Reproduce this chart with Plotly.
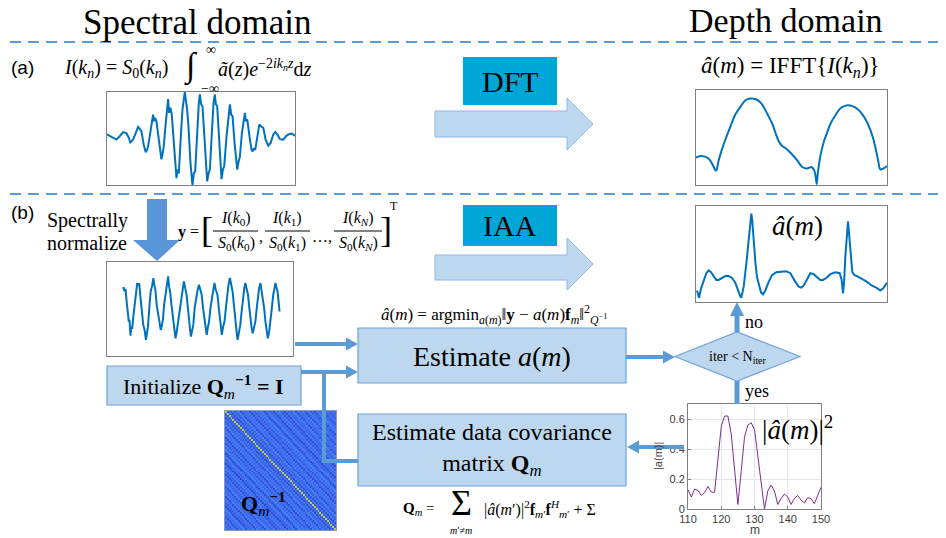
import numpy as np
import plotly.graph_objects as go

W, H = 946, 538
OFF = 8  # page body margin in the browser; coordinates below are screen pixels

# ---------------- data ----------------
# (a) raw spectral interferogram (sample index, amplitude)
spec_k = [22, 30, 40, 50, 60, 70, 80, 88, 92, 100, 108, 115, 120, 125, 132, 138, 142, 145, 150, 155,
          160, 163, 166, 170, 176, 180, 185, 188, 192, 197, 202, 205, 208, 212, 216, 222, 226, 230, 233, 237,
          242, 248, 255, 259, 262, 266, 272, 278, 282, 286, 292, 297, 300, 304, 308, 314, 318, 322, 326, 330,
          336, 341, 345, 348, 352, 358, 362, 365, 369, 373, 380, 386, 390, 394, 398, 404, 409, 412, 416, 420,
          426, 432, 435, 438, 442, 450, 455, 458, 462, 466, 472, 478, 484, 490, 497, 505, 512, 520, 526, 532,
          540, 550, 558, 565, 575, 585]
spec_I = [0.04, 0.01, -0.04, -0.07, 0.0, 0.09, 0.07, -0.04, -0.13, -0.07, 0.07, 0.2, 0.16, 0.11, -0.18, -0.34, -0.29, -0.21, 0.0, 0.29,
          0.46, 0.32, 0.39, 0.32, 0.0, -0.32, -0.49, -0.39, -0.21, 0.21, 0.64, 0.79, 0.5, 0.61, 0.46, -0.14, -0.71, -0.89, -0.71, -0.79,
          -0.14, 0.57, 0.94, 0.71, 0.57, 0.21, -0.57, -1.04, -0.79, -0.75, 0.14, 0.71, 0.89, 0.68, 0.64, -0.07, -0.64, -0.96, -0.79, -0.71,
          0.07, 0.71, 0.89, 0.68, 0.64, -0.07, -0.64, -0.91, -0.71, -0.64, 0.0, 0.5, 0.68, 0.46, 0.43, -0.14, -0.61, -0.71, -0.54, -0.43,
          0.07, 0.39, 0.5, 0.32, 0.36, -0.07, -0.29, -0.32, -0.25, -0.29, 0.0, 0.25, 0.21, 0.18, -0.07, -0.2, -0.14, 0.04, 0.09, 0.04,
          -0.06, -0.07, 0.0, 0.04, 0.06, 0.01]

# (a) DFT depth profile
dft_m = [18, 35, 50, 60, 68, 78, 85, 95, 108, 120, 135, 150, 165, 180, 195, 210, 220, 232, 245, 255,
         265, 275, 285, 300, 320, 335, 350, 362, 370, 375, 378, 382, 390, 400, 410, 420, 435, 450, 470, 485,
         500, 515, 530, 545, 555, 562, 568, 578, 588]
dft_a = [0.29, 0.305, 0.29, 0.26, 0.21, 0.15, 0.25, 0.37, 0.5, 0.61, 0.74, 0.82, 0.89, 0.91, 0.905, 0.87, 0.82, 0.74, 0.65, 0.55,
         0.46, 0.41, 0.39, 0.34, 0.26, 0.19, 0.175, 0.19, 0.16, 0.09, 0.01, 0.14, 0.32, 0.46, 0.56, 0.65, 0.74, 0.81, 0.84, 0.83,
         0.8, 0.74, 0.65, 0.51, 0.37, 0.25, 0.165, 0.175, 0.2]

# (b) spectrally normalized signal y
norm_k = [55, 58, 60, 63, 66, 70, 73, 75, 78, 80, 83, 87, 90, 94, 98, 101, 104, 108, 112, 116,
          120, 124, 127, 130, 134, 138, 142, 146, 149, 152, 156, 160, 164, 168, 171, 175, 178, 182, 186, 190,
          193, 196, 200, 205, 209, 212, 215, 220, 224, 228, 233, 237, 241, 245, 249, 252, 255, 258, 262, 265,
          269, 273, 278, 282, 286, 290, 294, 298, 302, 305, 308, 312, 316, 320, 324, 328, 332, 337, 341, 345,
          348, 350, 354, 358, 362, 366, 370, 374, 378, 382, 386, 390, 394, 397, 401, 405, 409, 413, 417, 420,
          424, 428, 432, 436, 439, 442, 446, 450, 454, 457, 461, 465, 468, 472, 476, 480, 484, 487, 491, 495,
          499, 503, 507, 510, 513, 516, 519, 522]
norm_y = [0.58, 0.62, 0.5, 0.58, 0.25, -0.1, -0.4, -0.35, -0.82, -0.55, -0.62, -0.2, 0.05, 0.5, 0.75, 0.68, 0.74, 0.3, -0.1, -0.5,
          -0.65, -0.95, -0.75, -0.55, 0.0, 0.5, 0.65, 0.9, 0.7, 0.55, 0.1, -0.2, -0.5, -0.65, -0.55, -0.3, 0.1, 0.4, 0.7, 0.95,
          0.65, 0.5, 0.1, -0.3, -0.65, -0.9, -0.75, -0.4, 0.0, 0.3, 0.65, 0.8, 0.6, 0.4, 0.0, -0.4, -0.6, -0.85, -0.65, -0.5,
          0.0, 0.3, 0.55, 0.7, 0.55, 0.4, 0.0, -0.3, -0.65, -0.8, -0.6, -0.4, 0.0, 0.3, 0.6, 0.75, 0.55, 0.4, 0.0, -0.4,
          -0.65, -0.8, -0.55, -0.4, 0.0, 0.4, 0.7, 0.9, 0.65, 0.5, 0.1, -0.4, -0.7, -0.95, -0.75, -0.5, -0.1, 0.3, 0.6, 0.75,
          0.55, 0.4, 0.0, -0.4, -0.6, -0.75, -0.55, -0.4, 0.0, 0.3, 0.6, 0.75, 0.55, 0.4, 0.0, -0.4, -0.7, -0.9, -0.7, -0.4,
          0.0, 0.4, 0.65, 0.75, 0.6, 0.5, 0.2, -0.1]

# (b) IAA depth profile
iaa_m = [680, 683, 686, 692, 700, 708, 715, 722, 730, 738, 745, 755, 765, 775, 785, 795, 803, 810, 813, 820,
         828, 835, 840, 843, 846, 850, 855, 860, 866, 872, 878, 885, 895, 905, 918, 935, 948, 960, 968, 975,
         985, 993, 1000, 1010, 1020, 1030, 1040, 1050, 1058, 1068, 1080, 1095, 1108, 1114, 1118, 1121, 1125, 1129, 1133, 1137,
         1141, 1146, 1152, 1160, 1175, 1190, 1205, 1218, 1230, 1238, 1244, 1250]
iaa_a = [0.12, 0.06, 0.045, 0.14, 0.23, 0.3, 0.33, 0.31, 0.27, 0.23, 0.23, 0.25, 0.27, 0.27, 0.25, 0.2, 0.12, 0.06, 0.045, 0.16,
         0.4, 0.64, 0.84, 0.92, 0.84, 0.64, 0.42, 0.26, 0.17, 0.1, 0.08, 0.12, 0.21, 0.28, 0.31, 0.32, 0.32, 0.3, 0.25, 0.21,
         0.16, 0.15, 0.17, 0.24, 0.3, 0.29, 0.26, 0.23, 0.23, 0.25, 0.29, 0.31, 0.3, 0.23, 0.09, 0.19, 0.47, 0.68, 0.84, 0.68,
         0.47, 0.31, 0.28, 0.27, 0.24, 0.21, 0.17, 0.15, 0.12, 0.14, 0.17, 0.2]

# |a(m)|^2 intermediate estimate
m_idx = list(range(110, 151))
a_sq = [0.129, 0.08, 0.133, 0.124, 0.091, 0.11, 0.151, 0.113, 0.111, 0.35, 0.55, 0.62, 0.62, 0.5, 0.25, 0.03,
        0.25, 0.48, 0.56, 0.575, 0.53, 0.35, 0.15, 0.0, 0.12, 0.16, 0.12, 0.03, 0.07, 0.1, 0.08, 0.03,
        0.07, 0.09, 0.06, 0.04, 0.075, 0.07, 0.035, 0.09, 0.145]
asq_xticks = [110, 120, 130, 140, 150]
asq_yticks = [0, 0.2, 0.4, 0.6]

# Q^-1 matrix: values along each diagonal offset |i-j|
q_diag = [1.0, 0.12, 0.24, 0.05, 0.28, 0.14, 0.21, 0.33, 0.06, 0.2, 0.26, 0.18, 0.3, 0.04, 0.19, 0.25, 0.1, 0.27, 0.18, 0.34,
          0.2, 0.05, 0.22, 0.29, 0.16, 0.2, 0.03, 0.25, 0.19, 0.31, 0.12, 0.21, 0.06, 0.27, 0.2, 0.15, 0.24, 0.32, 0.07, 0.2,
          0.22, 0.19, 0.29, 0.05, 0.21, 0.26, 0.16, 0.2, 0.06, 0.24, 0.3, 0.18, 0.22, 0.08, 0.2, 0.27, 0.13, 0.21, 0.19, 0.24]

# ---------------- styling ----------------
SERIF = "Liberation Serif"
SANS = "Liberation Sans"
BLUE = "#5b9bd5"
BOXFILL = "#bdd7ee"
BOXLINE = "#6fa3da"
CYAN = "#00a6d6"
SIG = "#0072bd"

fig = go.Figure()

def dom_x(x0, x1):
    return [(x0 - OFF) / W, (x1 - OFF) / W]

def dom_y(y0, y1):
    return [1 - (y1 - OFF) / H, 1 - (y0 - OFF) / H]

# invisible base trace to anchor pixel coordinate frame
fig.add_trace(go.Scatter(x=[OFF + 1], y=[OFF + 1], mode="markers", marker=dict(opacity=0), showlegend=False,
                         hoverinfo="skip", xaxis="x", yaxis="y"))

layout_axes = dict(
    xaxis=dict(domain=[0, 1], range=[OFF, W + OFF], visible=False, fixedrange=True, automargin=False),
    yaxis=dict(domain=[0, 1], range=[H + OFF, OFF], visible=False, fixedrange=True, automargin=False),
)

frame = dict(showline=True, mirror=True, linecolor="#7f7f7f", linewidth=1, showticklabels=False,
             ticks="", showgrid=False, zeroline=False, automargin=False)

# (a) spectrum
fig.add_trace(go.Scatter(x=spec_k, y=spec_I, mode="lines", line=dict(color=SIG, width=2),
                         xaxis="x2", yaxis="y2", showlegend=False))
layout_axes["xaxis2"] = dict(domain=dom_x(107, 295), range=[22, 585], anchor="y2", **frame)
layout_axes["yaxis2"] = dict(domain=dom_y(92, 185), range=[-1.036, 0.943], anchor="x2", **frame)

# (a) DFT
fig.add_trace(go.Scatter(x=dft_m, y=dft_a, mode="lines", line=dict(color=SIG, width=2, shape="spline"),
                         xaxis="x3", yaxis="y3", showlegend=False))
layout_axes["xaxis3"] = dict(domain=dom_x(696, 887), range=[18, 588], anchor="y3", **frame)
layout_axes["yaxis3"] = dict(domain=dom_y(90, 185), range=[0, 1], anchor="x3", **frame)

# (b) normalized
fig.add_trace(go.Scatter(x=norm_k, y=norm_y, mode="lines", line=dict(color=SIG, width=2),
                         xaxis="x4", yaxis="y4", showlegend=False))
layout_axes["xaxis4"] = dict(domain=dom_x(107, 293), range=[8, 562], anchor="y4", **frame)
layout_axes["yaxis4"] = dict(domain=dom_y(262, 356), range=[-1.43, 1.38], anchor="x4", **frame)

# (b) IAA
fig.add_trace(go.Scatter(x=iaa_m, y=iaa_a, mode="lines", line=dict(color=SIG, width=2),
                         xaxis="x5", yaxis="y5", showlegend=False))
layout_axes["xaxis5"] = dict(domain=dom_x(696, 887), range=[677, 1250], anchor="y5", **frame)
layout_axes["yaxis5"] = dict(domain=dom_y(206, 302), range=[0, 1], anchor="x5", **frame)

# |a(m)|^2
fig.add_trace(go.Scatter(x=m_idx, y=a_sq, mode="lines", line=dict(color="#7e2f8e", width=1),
                         xaxis="x6", yaxis="y6", showlegend=False))
tickfont = dict(family=SANS, size=11, color="#404040")
layout_axes["xaxis6"] = dict(domain=dom_x(688, 821), range=[110, 150], anchor="y6", tickvals=asq_xticks,
                             showline=True, mirror=True, linecolor="#7f7f7f", linewidth=1, ticks="inside",
                             ticklen=3, tickcolor="#7f7f7f", showgrid=True, gridcolor="#e6e6e6", zeroline=False,
                             tickfont=tickfont, automargin=False)
layout_axes["yaxis6"] = dict(domain=dom_y(404, 509), range=[0, 0.7], anchor="x6", tickvals=asq_yticks,
                             ticktext=["0", "0.2", "0.4", "0.6"],
                             showline=True, mirror=True, linecolor="#7f7f7f", linewidth=1, ticks="inside",
                             ticklen=3, tickcolor="#7f7f7f", showgrid=True, gridcolor="#e6e6e6", zeroline=False,
                             tickfont=tickfont, automargin=False)

# Q^-1 heatmap
qd = np.array(q_diag)
n = len(qd)
ii, jj = np.meshgrid(np.arange(n), np.arange(n), indexing="ij")
qmat = qd[np.abs(ii - jj)]
parula_like = [[0.0, "#3044c8"], [0.1, "#3858e0"], [0.2, "#3e6cf0"], [0.3, "#4380f4"],
               [0.45, "#3a98ea"], [0.6, "#22b4c6"], [0.8, "#90c85c"], [1.0, "#b8cc58"]]
fig.add_trace(go.Heatmap(z=qmat, colorscale=parula_like, zmin=0, zmax=1, showscale=False,
                         xaxis="x7", yaxis="y7", hoverinfo="skip"))
layout_axes["xaxis7"] = dict(domain=dom_x(225, 336), anchor="y7", showticklabels=False, ticks="",
                             showgrid=False, zeroline=False, showline=True, mirror=True,
                             linecolor="#8a9ab8", linewidth=1, range=[-0.5, n - 0.5], automargin=False)
layout_axes["yaxis7"] = dict(domain=dom_y(411, 530), anchor="x7", showticklabels=False, ticks="",
                             showgrid=False, zeroline=False, showline=True, mirror=True,
                             linecolor="#8a9ab8", linewidth=1, range=[n - 0.5, -0.5], automargin=False)

# ---------------- shapes ----------------
shapes = []

def rect(x0, y0, x1, y1, fill, line, lw=1.2):
    shapes.append(dict(type="rect", xref="x", yref="y", x0=x0, y0=y0, x1=x1, y1=y1,
                       fillcolor=fill, line=dict(color=line, width=lw), layer="above"))

def seg(x0, y0, x1, y1, color=BLUE, width=4, dash=None):
    ln = dict(color=color, width=width)
    if dash:
        ln["dash"] = dash
    shapes.append(dict(type="line", xref="x", yref="y", x0=x0, y0=y0, x1=x1, y1=y1, line=ln, layer="above"))

def poly(pts, fill, line=None, lw=1):
    p = "M " + " L ".join(f"{a},{b}" for a, b in pts) + " Z"
    shapes.append(dict(type="path", xref="x", yref="y", path=p, fillcolor=fill,
                       line=dict(color=line if line else fill, width=lw if line else 0), layer="above"))

def arrow(x0, y0, x1, y1, width=4, hl=12, hw=6.5):
    dx, dy = x1 - x0, y1 - y0
    L = (dx * dx + dy * dy) ** 0.5
    ux, uy = dx / L, dy / L
    bx, by = x1 - ux * hl, y1 - uy * hl
    seg(x0, y0, bx + ux * 1, by + uy * 1, width=width)
    px, py = -uy, ux
    poly([(x1, y1), (bx + px * hw, by + py * hw), (bx - px * hw, by - py * hw)], BLUE)

# dashed separators
seg(10, 42, W, 42, color=BLUE, width=2, dash="11px,7px")
seg(10, 194, W, 194, color=BLUE, width=2, dash="11px,7px")

# DFT / IAA labels and big arrows
rect(463, 57, 557, 105, CYAN, CYAN, 0)
rect(463, 205, 557, 246, CYAN, CYAN, 0)
poly([(435, 111), (567, 111), (567, 98), (593, 124), (567, 150), (567, 137), (435, 137)], BOXFILL, "#8fb8e2", 1)
poly([(435, 255), (567, 255), (567, 238), (593, 264), (567, 290), (567, 280), (435, 280)], BOXFILL, "#8fb8e2", 1)

# spectrally normalize down arrow
poly([(147, 199), (167, 199), (167, 240), (180, 240), (157, 261), (133, 240), (147, 240)], "#5896d8")

# process boxes
rect(358, 328, 626, 383, BOXFILL, BOXLINE)
rect(358, 414, 626, 486, BOXFILL, BOXLINE)
rect(107, 366, 301, 405, BOXFILL, BOXLINE)
poly([(675, 356.5), (737, 332), (800, 356.5), (737, 381)], BOXFILL, BOXLINE, 1.2)

# connectors
arrow(295, 344, 358, 344)
arrow(301, 372, 358, 372)
seg(324, 372, 324, 461)
seg(322, 461, 358, 461)
arrow(626, 357, 675, 357)
arrow(737, 332, 737, 302, width=5, hl=14, hw=7)
seg(737, 381, 737, 404, width=5)
arrow(683, 447, 627, 447)

# fraction bars for y definition
for (fx0, fx1) in [(213, 258), (265, 310), (334, 382)]:
    seg(fx0, 231, fx1, 231, color="#000000", width=1)

# ---------------- annotations ----------------
ann = []

def txt(x, y, text, size, family=SERIF, color="#000000", xanchor="center", yanchor="middle", angle=0):
    ann.append(dict(x=x, y=y, xref="x", yref="y", text=text, showarrow=False, textangle=angle,
                    font=dict(family=family, size=size, color=color), xanchor=xanchor, yanchor=yanchor))

txt(197, 22, "Spectral domain", 35)
txt(786, 20, "Depth domain", 34)
txt(9, 67, "(a)", 19, family=SANS, xanchor="left")
txt(9, 212, "(b)", 19, family=SANS, xanchor="left")

# (a) formula
txt(62, 68, "<i>I</i>(<i>k</i><sub><i>n</i></sub>) = <i>S</i><sub>0</sub>(<i>k</i><sub><i>n</i></sub>)", 20, xanchor="left")
txt(191, 66, "∫", 34)
txt(211, 49, "∞", 14)
txt(210, 88, "−∞", 14)
txt(216, 68, "<i>ã</i>(<i>z</i>)<i>e</i><sup>−2<i>ik<sub>n</sub>z</i></sup>d<i>z</i>", 20, xanchor="left")

txt(510, 81, "DFT", 30)
txt(510, 225, "IAA", 30)

txt(790, 67, "<i>â</i>(<i>m</i>) = IFFT{<i>I</i>(<i>k</i><sub><i>n</i></sub>)}", 23)

# (b) left
txt(45, 220, "Spectrally", 20, xanchor="left")
txt(45, 243, "normalize", 20, xanchor="left")
txt(188, 232, "<b>y</b> =", 16)
txt(207, 230, "[", 36)
txt(236, 218, "<i>I</i>(<i>k</i><sub>0</sub>)", 16)
txt(236, 243, "<i>S</i><sub>0</sub>(<i>k</i><sub>0</sub>)", 16)
txt(261, 236, ",", 16)
txt(287, 218, "<i>I</i>(<i>k</i><sub>1</sub>)", 16)
txt(287, 243, "<i>S</i><sub>0</sub>(<i>k</i><sub>1</sub>)", 16)
txt(322, 236, "…,", 16)
txt(358, 218, "<i>I</i>(<i>k</i><sub><i>N</i></sub>)", 16)
txt(358, 243, "<i>S</i><sub>0</sub>(<i>k</i><sub><i>N</i></sub>)", 16)
txt(386, 230, "]", 36)
txt(394, 206, "T", 12)

# IAA plot label
txt(797, 226, "<i>â</i>(<i>m</i>)", 27)

# argmin formula
txt(494, 314, "<i>â</i>(<i>m</i>) = argmin<sub><i>a</i>(<i>m</i>)</sub>‖<b>y</b> − <i>a</i>(<i>m</i>)<b>f</b><sub><i>m</i></sub>‖<sup>2</sup><sub><i>Q</i><sup>−1</sup></sub>", 17)

txt(492, 356, "Estimate <i>a</i>(<i>m</i>)", 28)
txt(492, 449, "Estimate data covariance<br>matrix <b>Q</b><sub><i>m</i></sub>", 24)
txt(203, 386, "Initialize <b>Q</b><sub><i>m</i></sub><sup><b>−1</b></sup> <b>= I</b>", 22)

txt(737, 357, "iter &lt; N<sub>iter</sub>", 14)
txt(743, 322, "no", 18, xanchor="left")
txt(743, 391, "yes", 18, xanchor="left")

txt(797, 428, "|<i>â</i>(<i>m</i>)|<sup>2</sup>", 27)

# |a(m)| plot axis titles
txt(755, 530, "m", 12, family=SANS, color="#404040")
txt(658, 456, "|a(m)|", 11, family=SANS, color="#404040", angle=-90)

txt(263, 503, "<b>Q</b><sub><i>m</i></sub><sup><b>−1</b></sup>", 22)

# covariance formula
txt(418, 509, "<b>Q</b><sub><i>m</i></sub> =", 15)
txt(461, 503, "Σ", 36)
txt(461, 530, "<i>m</i>′≠<i>m</i>", 10)
txt(482, 509, "|<i>â</i>(<i>m</i>′)|<sup>2</sup><b>f</b><sub><i>m</i>′</sub><b>f</b><sup><i>H</i></sup><sub><i>m</i>′</sub> + Σ", 16, xanchor="left")

fig.update_layout(
    width=W, height=H, margin=dict(l=0, r=0, t=0, b=0, pad=0, autoexpand=False),
    paper_bgcolor="white", plot_bgcolor="white",
    shapes=shapes, annotations=ann, showlegend=False,
    **layout_axes,
)

fig.write_html("out.html")
